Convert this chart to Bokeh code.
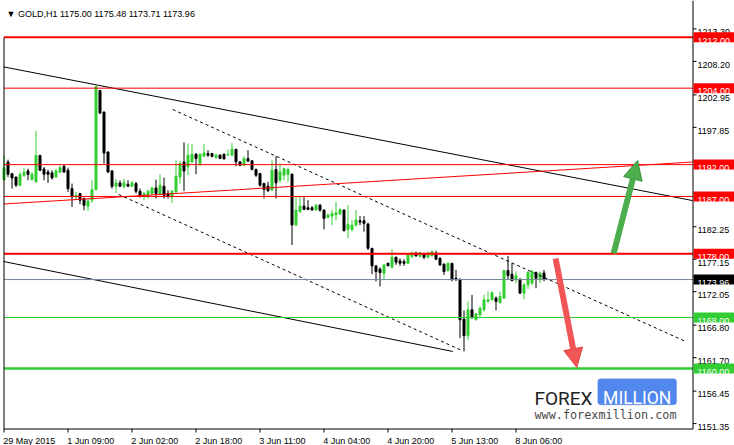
from bokeh.plotting import figure
from bokeh.models import Range1d, ColumnDataSource, BoxAnnotation, Arrow, NormalHead, Label
from bokeh.core.properties import value
from bokeh.embed import file_html
from bokeh.resources import INLINE

# ---------------- data (GOLD, H1) ----------------
bar_open = [1189.64, 1192.41, 1190.58, 1190.06, 1188.76, 1190.32, 1191.00, 1189.64, 1189.28, 1193.45,
            1191.31, 1190.84, 1190.69, 1190.06, 1190.79, 1191.73, 1191.11, 1188.23, 1186.93, 1187.45,
            1186.67, 1185.47, 1186.41, 1188.08, 1203.63, 1200.24, 1193.98, 1191.00, 1188.60, 1189.12,
            1188.60, 1188.91, 1188.60, 1189.02, 1187.82, 1187.03, 1187.19, 1187.45, 1188.34, 1187.35,
            1188.60, 1187.45, 1186.93, 1187.71, 1190.06, 1192.41, 1191.65, 1192.43, 1193.63, 1192.17,
            1193.32, 1193.74, 1193.74, 1193.11, 1193.48, 1193.63, 1193.53, 1193.48, 1194.41, 1192.43,
            1191.91, 1192.95, 1192.59, 1191.23, 1190.60, 1189.04, 1188.62, 1188.00, 1191.23, 1189.56,
            1190.34, 1190.45, 1190.50, 1182.51, 1184.60, 1185.49, 1185.23, 1185.23, 1184.86, 1185.64,
            1184.86, 1183.71, 1183.92, 1184.13, 1184.24, 1184.86, 1181.83, 1181.83, 1182.51, 1183.19,
            1183.19, 1182.67, 1178.87, 1176.10, 1175.58, 1174.95, 1176.52, 1175.89, 1177.46, 1176.89,
            1176.78, 1176.52, 1177.56, 1178.09, 1177.56, 1177.98, 1177.46, 1177.67, 1178.09, 1177.30,
            1176.36, 1175.37, 1176.52, 1174.17, 1174.01, 1167.75, 1165.14, 1169.21, 1167.65, 1168.43,
            1169.21, 1170.52, 1170.78, 1171.04, 1170.36, 1171.04, 1175.37, 1174.80, 1173.91, 1174.01,
            1171.82, 1173.13, 1173.39, 1175.06, 1174.01, 1175.00]
bar_high = [1193.45, 1192.78, 1190.69, 1190.06, 1190.84, 1191.52, 1191.37, 1190.84, 1197.27, 1193.45,
            1191.63, 1191.21, 1191.11, 1191.37, 1191.89, 1191.99, 1191.52, 1189.02, 1187.71, 1187.56,
            1186.83, 1186.67, 1189.54, 1204.26, 1203.74, 1200.35, 1194.08, 1191.11, 1189.75, 1189.54,
            1189.80, 1189.54, 1189.44, 1189.28, 1188.23, 1187.71, 1188.08, 1188.50, 1189.64, 1190.48,
            1189.96, 1187.97, 1187.97, 1192.67, 1192.57, 1195.50, 1195.30, 1195.20, 1193.80, 1193.74,
            1195.20, 1194.26, 1193.84, 1193.74, 1193.63, 1193.74, 1194.36, 1195.41, 1194.41, 1192.54,
            1193.32, 1194.26, 1192.69, 1191.39, 1190.71, 1189.14, 1189.30, 1192.69, 1193.32, 1192.17,
            1191.54, 1191.54, 1190.60, 1186.95, 1186.95, 1186.95, 1186.43, 1185.49, 1185.80, 1185.80,
            1184.97, 1184.34, 1184.86, 1186.17, 1185.12, 1184.97, 1185.64, 1183.30, 1184.86, 1183.92,
            1183.92, 1182.90, 1178.90, 1176.20, 1175.89, 1176.30, 1176.60, 1178.71, 1177.56, 1177.30,
            1177.15, 1178.09, 1178.35, 1178.35, 1178.30, 1178.09, 1178.35, 1178.50, 1178.50, 1177.46,
            1176.52, 1176.62, 1176.52, 1175.50, 1174.10, 1169.11, 1170.52, 1171.56, 1168.69, 1169.73,
            1171.56, 1172.08, 1172.08, 1171.30, 1172.08, 1175.48, 1177.67, 1176.52, 1175.22, 1174.17,
            1173.39, 1175.22, 1175.48, 1175.22, 1175.22, 1175.48]
bar_low = [1189.54, 1190.06, 1188.23, 1188.50, 1188.60, 1190.06, 1189.54, 1189.54, 1189.28, 1191.00,
           1189.54, 1189.12, 1189.64, 1189.96, 1190.69, 1190.74, 1187.71, 1185.36, 1186.51, 1185.78,
           1184.84, 1184.74, 1185.99, 1187.97, 1199.98, 1192.15, 1190.69, 1188.23, 1187.56, 1188.50,
           1188.23, 1188.60, 1188.50, 1187.45, 1186.83, 1186.41, 1186.67, 1187.19, 1186.67, 1187.19,
           1186.67, 1186.67, 1185.99, 1187.56, 1189.02, 1187.85, 1190.34, 1192.17, 1190.50, 1191.75,
           1193.21, 1193.21, 1193.11, 1192.95, 1192.90, 1192.80, 1193.32, 1193.32, 1191.75, 1191.75,
           1191.75, 1192.43, 1191.13, 1190.08, 1188.52, 1186.69, 1187.73, 1187.89, 1186.69, 1189.14,
           1189.56, 1189.30, 1179.38, 1182.36, 1184.44, 1184.86, 1184.86, 1184.86, 1184.86, 1184.60,
           1181.83, 1183.56, 1182.51, 1183.30, 1184.08, 1181.50, 1180.43, 1181.47, 1182.25, 1182.51,
           1181.47, 1178.60, 1174.80, 1173.65, 1172.87, 1174.00, 1176.00, 1175.70, 1176.26, 1176.10,
           1176.10, 1176.40, 1177.30, 1177.56, 1177.50, 1177.15, 1177.30, 1177.56, 1177.04, 1176.10,
           1174.69, 1175.22, 1173.65, 1173.80, 1164.77, 1162.69, 1164.51, 1167.75, 1167.54, 1168.06,
           1168.95, 1170.36, 1170.67, 1169.11, 1170.15, 1170.88, 1173.91, 1173.65, 1173.39, 1171.72,
           1170.88, 1172.45, 1173.13, 1172.61, 1173.39, 1173.71]
bar_close = [1191.52, 1190.48, 1189.91, 1188.76, 1190.43, 1190.79, 1190.48, 1190.48, 1193.45, 1191.11,
             1190.48, 1190.48, 1189.91, 1191.00, 1191.52, 1190.84, 1188.23, 1186.93, 1187.19, 1186.41,
             1185.62, 1186.30, 1188.08, 1204.26, 1200.08, 1193.82, 1190.84, 1188.60, 1189.12, 1188.60,
             1189.12, 1188.60, 1189.12, 1187.82, 1187.03, 1187.45, 1187.82, 1188.34, 1187.45, 1188.76,
             1187.19, 1187.03, 1187.82, 1190.17, 1192.15, 1191.00, 1193.48, 1193.63, 1192.95, 1193.63,
             1193.84, 1193.48, 1193.32, 1193.48, 1192.95, 1192.90, 1193.63, 1194.41, 1192.43, 1191.91,
             1192.95, 1192.54, 1191.23, 1190.34, 1188.78, 1188.10, 1187.89, 1191.13, 1189.14, 1190.86,
             1191.39, 1191.23, 1182.51, 1184.86, 1185.49, 1184.97, 1184.97, 1184.86, 1185.64, 1184.86,
             1183.56, 1184.08, 1184.34, 1184.44, 1184.97, 1181.63, 1182.62, 1182.51, 1183.30, 1182.98,
             1182.77, 1178.87, 1176.10, 1175.22, 1175.06, 1176.26, 1176.15, 1177.46, 1176.68, 1176.52,
             1176.52, 1177.83, 1178.09, 1177.67, 1178.19, 1177.46, 1178.09, 1178.35, 1177.15, 1176.26,
             1175.22, 1176.52, 1174.01, 1173.91, 1167.65, 1165.14, 1169.21, 1168.06, 1168.59, 1169.47,
             1170.78, 1170.78, 1171.93, 1170.52, 1171.30, 1175.37, 1174.59, 1173.81, 1174.54, 1171.82,
             1173.13, 1175.11, 1175.22, 1174.17, 1174.95, 1173.96]

time_tick_bars = [0, 16, 32, 48, 64, 80, 96, 112, 128]
time_tick_labels = ["29 May 2015", "1 Jun 09:00", "2 Jun 02:00", "2 Jun 18:00", "3 Jun 11:00",
                    "4 Jun 04:00", "4 Jun 20:00", "5 Jun 13:00", "8 Jun 06:00"]
price_ticks = [1213.30, 1208.20, 1202.95, 1197.85, 1192.60, 1187.50, 1182.25, 1177.15,
               1172.05, 1166.80, 1161.70, 1156.45, 1151.35]

level_prices = [1212.00, 1204.00, 1192.00, 1187.00, 1178.00, 1173.96, 1168.00, 1160.00]
level_colors = ["#ff0000", "#ff0000", "#ff0000", "#ff0000", "#ff0000", "#778899", "#32cd32", "#32cd32"]
level_widths = [2, 1, 1, 1, 2, 1, 1, 2.5]
level_box_colors = ["#ff0000", "#ff0000", "#ff0000", "#ff0000", "#ff0000", "#000000", "#32cd32", "#32cd32"]

trend_solid_bars = [[-0.1, 172.2], [-0.1, 112.2]]
trend_solid_prices = [[1207.34, 1186.35], [1176.79, 1162.67]]
trend_dashed_bars = [[42.2, 170.4], [28.7, 114.2]]
trend_dashed_prices = [[1200.65, 1164.24], [1187.31, 1162.90]]
trend_red_bars = [-0.1, 172.2]
trend_red_prices = [1185.82, 1192.41]

arrow_up_bars = [152.4, 158.4]
arrow_up_prices = [1178.05, 1192.65]
arrow_down_bars = [137.9, 143.2]
arrow_down_prices = [1177.27, 1160.16]

title_text = "\u25BC GOLD,H1  1175.00 1175.48 1173.71 1173.96"

# ---------------- scales: bar index / price <-> canvas pixels ----------------
W, H = 734, 445
BAR0_PX, BAR_PX = 3.5, 4.0          # x pixel of bar 0, pixels per bar
P_REF, P_REF_PX, PX_PER_P = 1212.0, 36.7, 6.371


def bar_at(px):
    return (px - BAR0_PX) / BAR_PX


def price_at(py):
    return P_REF - (py - P_REF_PX) / PX_PER_P


px_p = 1.0 / PX_PER_P     # price per pixel

LEFT, RIGHT, BOTTOM = bar_at(3.5), bar_at(692.5), price_at(428.5)
FONT = "Liberation Sans"

p = figure(width=W, height=H, output_backend="svg", toolbar_location=None,
           x_range=Range1d(bar_at(0), bar_at(W)), y_range=Range1d(price_at(H), price_at(0)),
           x_axis_location=None, y_axis_location=None, min_border=0)
p.outline_line_color = None
p.grid.visible = False
p.background_fill_color = "white"
p.border_fill_color = "white"

# ---------------- candles ----------------
n = len(bar_open)
src = ColumnDataSource(dict(
    x=list(range(n)), o=bar_open, h=bar_high, l=bar_low, c=bar_close,
    top=[max(o, c) for o, c in zip(bar_open, bar_close)],
    bot=[min(o, c) for o, c in zip(bar_open, bar_close)],
    color=["#32cd32" if c > o else "#000000" for o, c in zip(bar_open, bar_close)],
))
p.segment(x0="x", y0="l", x1="x", y1="h", line_color="color", line_width=1, source=src)
p.vbar(x="x", width=0.5, top="top", bottom="bot", fill_color="color", line_color="color",
       line_width=1, source=src)

# ---------------- trend lines ----------------
for xs, ys in zip(trend_solid_bars, trend_solid_prices):
    p.line(xs, ys, line_color="black", line_width=1)
for xs, ys in zip(trend_dashed_bars, trend_dashed_prices):
    p.line(xs, ys, line_color="black", line_width=1, line_dash="3 3")
p.line(trend_red_bars, trend_red_prices, line_color="#ff0000", line_width=1)

# ---------------- horizontal levels ----------------
lvl = ColumnDataSource(dict(y=level_prices, color=level_colors, lw=level_widths,
                            x0=[LEFT] * len(level_prices), x1=[RIGHT] * len(level_prices)))
p.segment(x0="x0", y0="y", x1="x1", y1="y", line_color="color", line_width="lw", source=lvl)

# ---------------- chart frame (left / right / bottom) ----------------
p.segment(x0=[LEFT, RIGHT, LEFT], y0=[price_at(37), price_at(0), BOTTOM],
          x1=[LEFT, RIGHT, RIGHT], y1=[BOTTOM, BOTTOM, BOTTOM], line_color="black", line_width=1)

# ---------------- price scale (right) ----------------
p.segment(x0=[RIGHT] * len(price_ticks), x1=[bar_at(696)] * len(price_ticks),
          y0=price_ticks, y1=price_ticks, line_color="black", line_width=1)
p.text(x=[bar_at(697)] * len(price_ticks), y=[t - 3.3 * px_p for t in price_ticks],
       text=["%.2f" % t for t in price_ticks], text_font=value(FONT), text_font_size=value("9px"),
       text_color="black", text_align="left", text_baseline="alphabetic")
p.rect(x=[bar_at(713.5)] * len(level_prices), y=level_prices, width=41, height=10,
       width_units="screen", height_units="screen", fill_color=level_box_colors, line_color=None)
p.text(x=[bar_at(697)] * len(level_prices), y=[v - 3.3 * px_p for v in level_prices],
       text=["%.2f" % v for v in level_prices], text_font=value(FONT), text_font_size=value("9px"),
       text_color="white", text_align="left", text_baseline="alphabetic")

# ---------------- time scale (bottom) ----------------
p.segment(x0=time_tick_bars, x1=time_tick_bars, y0=[BOTTOM] * len(time_tick_bars),
          y1=[price_at(432)] * len(time_tick_bars), line_color="black", line_width=1)
p.text(x=[b - 0.2 for b in time_tick_bars], y=[price_at(440)] * len(time_tick_bars),
       text=time_tick_labels, text_font=value(FONT), text_font_size=value("9px"),
       text_color="black", text_align="left", text_baseline="alphabetic")

# ---------------- title ----------------
p.text(x=[bar_at(6)], y=[price_at(13.5)], text=[title_text], text_font=value(FONT),
       text_font_size=value("9px"), text_color="black", text_align="left",
       text_baseline="alphabetic")

# ---------------- arrows ----------------
p.add_layout(Arrow(end=NormalHead(size=19, fill_color="#4cae4c", line_color="#3d8f3d", line_width=1),
                   x_start=arrow_up_bars[0], y_start=arrow_up_prices[0],
                   x_end=arrow_up_bars[1], y_end=arrow_up_prices[1],
                   line_color="#4cae4c", line_width=6))
p.add_layout(Arrow(end=NormalHead(size=19, fill_color="#f25555", line_color="#e04444", line_width=1),
                   x_start=arrow_down_bars[0], y_start=arrow_down_prices[0],
                   x_end=arrow_down_bars[1], y_end=arrow_down_prices[1],
                   line_color="#f25555", line_width=6))

# ---------------- watermark logo ----------------
p.text(x=[bar_at(534)], y=[price_at(397.7)], text=["FOREX"], text_font=value("Roboto"),
       text_font_size=value("19px"), text_color="#222222", text_align="left",
       text_baseline="alphabetic")
p.add_layout(BoxAnnotation(left=bar_at(597.3), right=bar_at(676), top=price_at(378.3),
                           bottom=price_at(404.3), fill_color="#5288ee", fill_alpha=1.0,
                           line_color="#3a6fd8", line_width=1, border_radius=3))
p.add_layout(Label(x=bar_at(636.7), y=price_at(397.7), text="MILLION", text_font="Roboto",
                   text_font_size="17.5px", text_color="white", text_align="center",
                   text_baseline="alphabetic"))
p.text(x=[bar_at(534)], y=[price_at(414.2)], text=["www.forexmillion.com"],
       text_font=value("DejaVu Sans Mono"), text_font_size=value("11.8px"), text_color="#4a4a4a",
       text_align="left", text_baseline="middle")

open("out.html", "w").write(file_html(p, INLINE))
